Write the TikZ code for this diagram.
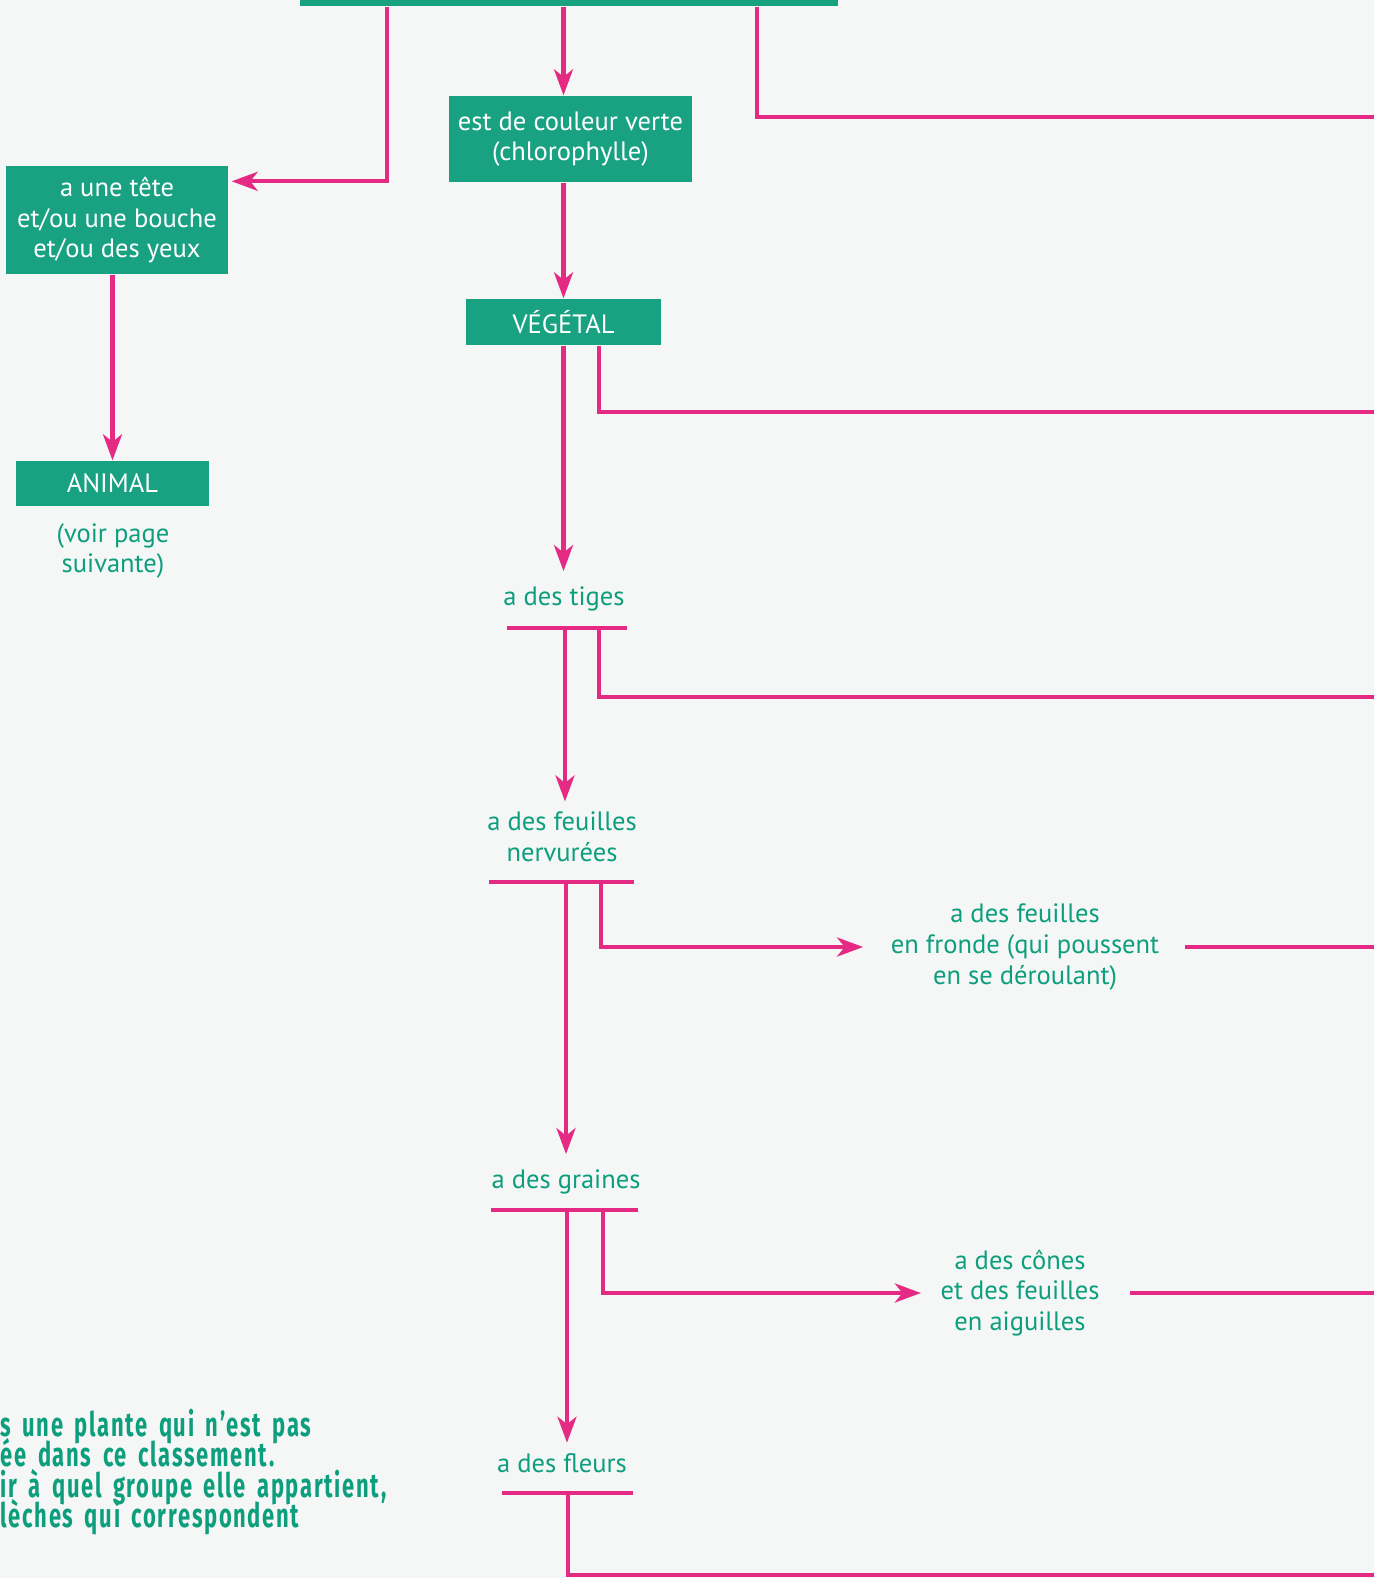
\documentclass[tikz,border=0pt]{standalone}
\usepackage{fontspec}
\setmainfont{PT Sans}
\newfontfamily\consignefont[FakeStretch=0.65,LetterSpace=5]{Fira Sans}
\newcommand\consignetexte{\consignefont\bfseries\fontsize{9.6}{8.7}\selectfont\lineskiplimit-20pt\spaceskip0.34em\relax}
\usetikzlibrary{arrows.meta}

\begin{document}
\begin{tikzpicture}[
		boite/.style={fill=vertboite, text=white, inner sep=0, align=center, font=\fontsize{7.55}{8.7}\selectfont},
		etiquette/.style={text=verttexte, inner sep=0, align=center, font=\fontsize{7.55}{8.7}\selectfont},
		lien/.style={draw=rose, line width=1.15pt},
		fleche/.style={lien, -{Stealth[length=0.26cm,width=0.19cm,inset=0.075cm]}},
		barre/.style={draw=rose, line width=1.35pt},
		consigne/.style={text=verttexte, inner sep=0, align=left, font=\consignetexte}]
		\definecolor{vertboite}{HTML}{18A282}
		\definecolor{verttexte}{HTML}{0C9E7D}
		\definecolor{rose}{HTML}{E52A84}
		\definecolor{fond}{HTML}{F5F7F6}
		% fond de page
		\fill[fond] (0,0) rectangle (13.74,-15.78);
		\useasboundingbox (0,0) rectangle (13.74,-15.78);
		
		% boites vertes
		\node[boite, minimum width=5.38cm, minimum height=0.3cm] (racine) at (5.69,0.09) {};
		\node[boite, minimum width=2.43cm, minimum height=0.86cm] (chloro) at (5.705,-1.39) {est de couleur verte\\(chlorophylle)};
		\node[boite, minimum width=1.95cm, minimum height=0.46cm] (vegetal) at (5.635,-3.22) {VÉGÉTAL};
		\node[boite, minimum width=2.22cm, minimum height=1.08cm] (tete) at (1.17,-2.20) {a une tête\\et/ou une bouche\\et/ou des yeux};
		\node[boite, minimum width=1.93cm, minimum height=0.45cm] (animal) at (1.125,-4.835) {ANIMAL};
		
		% etiquettes
		\node[etiquette] (voir) at (1.13,-5.51) {(voir page\\suivante)};
		\node[etiquette] (tiges) at (5.64,-5.99) {a des tiges};
		\node[etiquette] (nervures) at (5.62,-8.37) {a des feuilles\\nervurées};
		\node[etiquette] (fronde) at (10.25,-9.47) {a des feuilles\\en fronde (qui poussent\\en se déroulant)};
		\node[etiquette] (graines) at (5.66,-11.82) {a des graines};
		\node[etiquette] (cones) at (10.20,-12.93) {a des cônes\\et des feuilles\\en aiguilles};
		\node[etiquette] (fleurs) at (5.62,-14.63) {a des fleurs};
		
		% consigne (coupee au bord)
		\node[consigne, anchor=west] (consigne) at (0,-14.72) {s une plante qui n’est pas\\ée dans ce classement.\\ir à quel groupe elle appartient,\\lèches qui correspondent};
		
		% barres sous les etiquettes
		\coordinate (tiges-g) at (5.07,-6.28);
		\coordinate (tiges-d) at (6.27,-6.28);
		\coordinate (tiges-tronc) at (5.65,-6.28);
		\coordinate (tiges-branche) at (5.99,-6.28);
		\coordinate (nerv-g) at (4.89,-8.82);
		\coordinate (nerv-d) at (6.34,-8.82);
		\coordinate (nerv-tronc) at (5.66,-8.82);
		\coordinate (nerv-branche) at (6.01,-8.82);
		\coordinate (graines-g) at (4.91,-12.10);
		\coordinate (graines-d) at (6.38,-12.10);
		\coordinate (graines-tronc) at (5.67,-12.10);
		\coordinate (graines-branche) at (6.03,-12.10);
		\coordinate (fleurs-g) at (5.02,-14.93);
		\coordinate (fleurs-d) at (6.33,-14.93);
		\coordinate (fleurs-tronc) at (5.68,-14.93);
		\draw[barre] (tiges-g) -- (tiges-d);
		\draw[barre] (nerv-g) -- (nerv-d);
		\draw[barre] (graines-g) -- (graines-d);
		\draw[barre] (fleurs-g) -- (fleurs-d);
		
		% sorties vers la droite
		\coordinate (sortie1) at (13.74,-1.17);
		\coordinate (sortie2) at (13.74,-4.12);
		\coordinate (sortie3) at (13.74,-6.97);
		\coordinate (sortie4) at (13.74,-9.47);
		\coordinate (sortie5) at (13.74,-12.93);
		\coordinate (sortie6) at (13.74,-15.75);
		
		% fleches du haut
		\draw[fleche] ([xshift=-1.82cm]racine.south) |- ([xshift=0.03cm,yshift=-0.16cm]tete.north east);
		\draw[fleche] (racine.south -| vegetal.north) -- (chloro.north -| vegetal.north);
		\draw[lien] ([xshift=1.88cm]racine.south) |- (sortie1);
		\draw[fleche] (chloro.south -| vegetal.north) -- (vegetal.north);
		\draw[fleche] (tete.south -| animal.north) -- (animal.north);
		
		% tronc vegetal
		\draw[lien] ([xshift=0.355cm]vegetal.south) |- (sortie2);
		\draw[fleche, shorten >=1.5mm] (vegetal.south) -- (tiges.north -| vegetal.south);
		\draw[lien] (tiges-branche) |- (sortie3);
		\draw[fleche, shorten >=1mm] (tiges-tronc) -- (nervures.north -| tiges-tronc);
		\draw[fleche, shorten >=2.7mm] (nerv-branche) |- (fronde.west);
		\draw[lien, shorten <=2.5mm] (fronde.east) -- (sortie4);
		\draw[fleche, shorten >=1.5mm] (nerv-tronc) -- (graines.north -| nerv-tronc);
		\draw[fleche, shorten >=1.9mm] (graines-branche) |- (cones.west);
		\draw[lien, shorten <=3mm] (cones.east) -- (sortie5);
		\draw[fleche, shorten >=1mm] (graines-tronc) -- (fleurs.north -| graines-tronc);
		\draw[lien] (fleurs-tronc) |- (sortie6);
		
\end{tikzpicture}
\end{document}
